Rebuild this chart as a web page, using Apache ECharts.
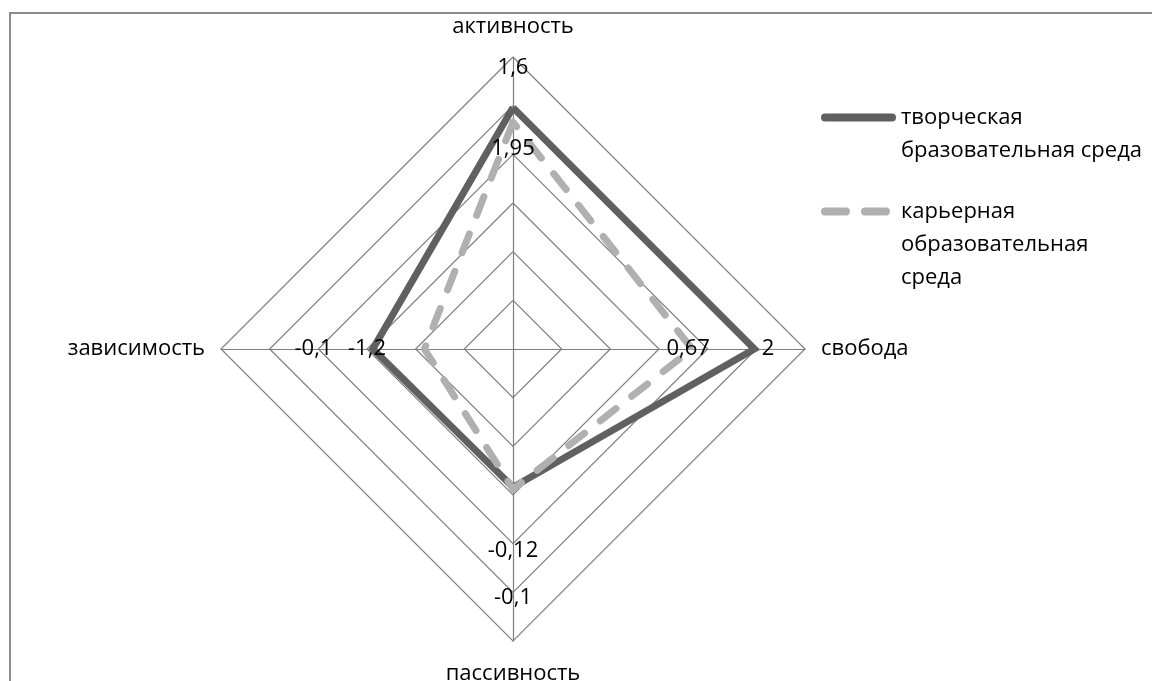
<!DOCTYPE html>
<html>
<head>
<meta charset="utf-8">
<script src="https://cdn.jsdelivr.net/npm/echarts@6/dist/echarts.min.js"></script>
<style>
html,body{margin:0;padding:0;background:#fff;}
#chart{width:1152px;height:681px;}
</style>
</head>
<body>
<div id="chart"></div>
<script>
// Indicators in ECharts order (counter-clockwise from top)
var categories = ['активность', 'зависимость', 'пассивность', 'свобода'];
var axisMax = 3;

var seriesNames = ['творческая бразовательная среда', 'карьерная образовательная среда'];
// leading blank lines keep the icon level with the first text line
var legendTexts = ['\nтворческая\nбразовательная среда', '\n\nкарьерная\nобразовательная\nсреда'];

var creativeValues = [2.48, 1.44, 1.42, 2.48];
var careerValues   = [2.33, 0.91, 1.44, 1.84];

// Data label texts and where they sit along each axis
var labelTextsA = ['1,6', '-0,1', '-0,1', '2'];
var labelPosA   = [2.89, 2.05, 2.56, 2.62];
var labelTextsB = ['1,95', '-1,2', '-0,12', '0,67'];
var labelPosB   = [2.06, 1.50, 2.07, 1.80];

var FONT = 'Open Sans';
var chart = echarts.init(document.getElementById('chart'));

function labelSeries(pos, texts) {
  return {
    type: 'radar',
    silent: true,
    z: 5,
    symbol: 'circle',
    symbolSize: 1,
    itemStyle: { color: 'rgba(0,0,0,0)' },
    lineStyle: { width: 0, opacity: 0 },
    emphasis: { disabled: true },
    label: {
      show: true,
      position: 'inside',
      color: '#000',
      fontSize: 22,
      fontFamily: FONT,
      textBorderWidth: 0,
      formatter: function (p) { return texts[pos.indexOf(p.value)]; }
    },
    data: [{ value: pos }]
  };
}

var option = {
  backgroundColor: '#fff',
  animation: false,
  graphic: [{
    type: 'rect',
    shape: { x: 10, y: 13, width: 1300, height: 900 },
    style: { fill: 'none', stroke: '#8c8c8c', lineWidth: 2 },
    silent: true,
    z: -1
  }],
  legend: [{
    left: 821,
    top: 68,
    padding: 0,
    selectedMode: false,
    itemWidth: 75,
    itemHeight: 8,
    formatter: function () { return legendTexts[0]; },
    textStyle: { color: '#000', fontSize: 22, fontFamily: FONT, lineHeight: 33 },
    data: [{
      name: seriesNames[0],
      icon: 'path://M4,0L71,0A4,4,0,0,1,71,8L4,8A4,4,0,0,1,4,0Z',
      itemStyle: { color: '#606060', borderWidth: 0, opacity: 1 }
    }]
  }, {
    left: 821,
    top: 129,
    padding: 0,
    selectedMode: false,
    itemWidth: 69,
    itemHeight: 8,
    formatter: function () { return legendTexts[1]; },
    textStyle: { color: '#000', fontSize: 22, fontFamily: FONT, lineHeight: 33, padding: [0, 0, 0, 6] },
    data: [{
      name: seriesNames[1],
      icon: 'path://M4,0L25,0A4,4,0,0,1,25,8L4,8A4,4,0,0,1,4,0Z M44,0L65,0A4,4,0,0,1,65,8L44,8A4,4,0,0,1,44,0Z',
      itemStyle: { color: '#b0b0b0', borderWidth: 0, opacity: 1 }
    }]
  }],
  radar: {
    center: [513, 349],
    radius: 292,
    startAngle: 90,
    splitNumber: 6,
    shape: 'polygon',
    nameGap: 16,
    axisName: { color: '#000', fontSize: 22, fontFamily: FONT, padding: [6, 0, 3, 0] },
    axisLine: { show: true, lineStyle: { color: '#7f7f7f', width: 1.2 } },
    splitLine: { show: true, lineStyle: { color: '#7f7f7f', width: 1.2 } },
    splitArea: { show: false },
    axisTick: { show: false },
    axisLabel: { show: false },
    indicator: categories.map(function (c) { return { name: c, min: 0, max: axisMax }; })
  },
  series: [{
    type: 'radar',
    name: seriesNames[0],
    z: 2,
    symbol: 'none',
    emphasis: { disabled: true },
    itemStyle: { color: '#606060' },
    lineStyle: { color: '#606060', width: 7, join: 'miter' },
    data: [{ name: seriesNames[0], value: creativeValues }]
  }, {
    type: 'radar',
    name: seriesNames[1],
    z: 3,
    symbol: 'none',
    emphasis: { disabled: true },
    itemStyle: { color: '#b0b0b0' },
    lineStyle: { color: '#b0b0b0', width: 7, type: [20, 20], cap: 'round', join: 'round' },
    data: [{ name: seriesNames[1], value: careerValues }]
  },
  labelSeries(labelPosA, labelTextsA),
  labelSeries(labelPosB, labelTextsB)
  ]
};
chart.setOption(option);
</script>
</body>
</html>
